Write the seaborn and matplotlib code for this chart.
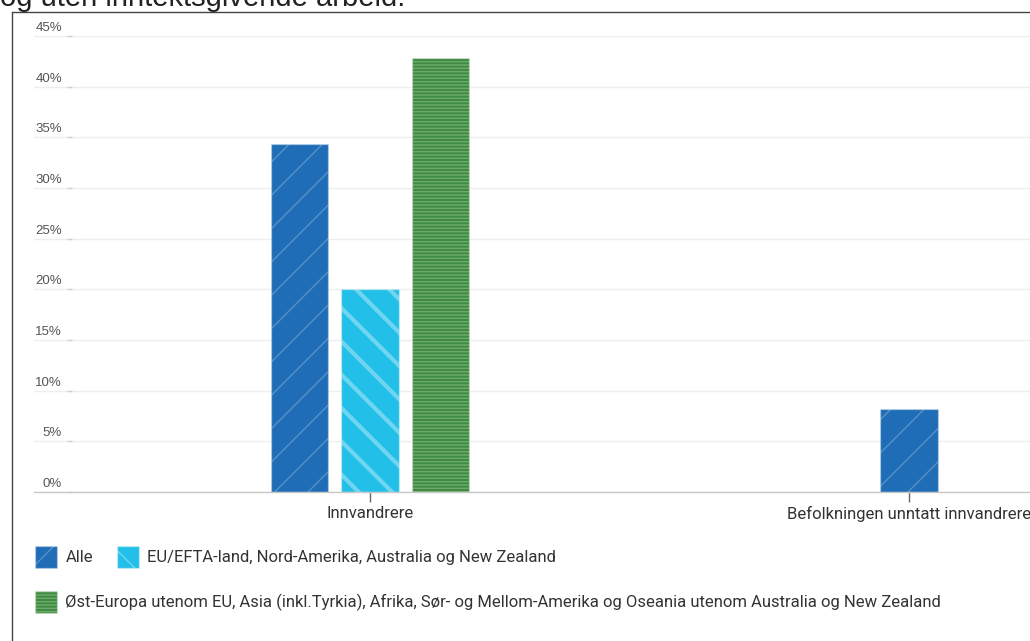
import matplotlib
matplotlib.use("Agg")
import matplotlib.pyplot as plt
import matplotlib.patches as mpatches
import matplotlib.transforms as mtransforms
from matplotlib.colors import to_hex
from matplotlib.lines import Line2D
import pandas as pd
import seaborn as sns

# Data (share in %)
categories = ["Innvandrere", "Befolkningen unntatt innvandrere"]
groups = [
    "Alle",
    "EU/EFTA-land, Nord-Amerika, Australia og New Zealand",
    "Øst-Europa utenom EU, Asia (inkl.Tyrkia), Afrika, Sør- og Mellom-Amerika og Oseania utenom Australia og New Zealand",
]
innvandrere_values = [34.3, 20.0, 42.8]
befolkning_values = [8.2]
y_ticks = [0, 5, 10, 15, 20, 25, 30, 35, 40, 45]
tick_labels = [f"{v}%" for v in y_ticks]

colors = ["#1f6db6", "#22c0e8", "#3e8c40"]
hatches = ["/", "\\", "-----"]
hatch_edges = [(1, 1, 1, 0.25), (1, 1, 1, 0.35), (1, 1, 1, 0.25)]
hatch_widths = [1.0, 3.0, 1.0]

sns.set_style("white")
plt.rcParams["font.family"] = ["Roboto", "DejaVu Sans"]
plt.rcParams["hatch.linewidth"] = 1.0

df1 = pd.DataFrame({"kategori": categories[0], "gruppe": groups, "andel": innvandrere_values})
df2 = pd.DataFrame({"kategori": categories[1], "gruppe": groups[:1], "andel": befolkning_values})

fig = plt.figure(figsize=(10.3, 6.41), dpi=100)
ax = fig.add_axes([34 / 1030, 1 - 492 / 641, 1 - 34 / 1030, (492 - 36) / 641])

sns.barplot(data=df1, x="kategori", y="andel", hue="gruppe", order=categories,
            hue_order=groups, palette=colors, width=0.392, gap=0.19,
            saturation=1, errorbar=None, legend=False, ax=ax)
sns.barplot(data=df2, x="kategori", y="andel", order=categories, color=colors[0],
            width=0.106, saturation=1, errorbar=None, ax=ax)

# hatch patterns per series
for p in ax.patches:
    fc = to_hex(p.get_facecolor())
    if fc in colors:
        i = colors.index(fc)
        p.set_hatch(hatches[i])
        p.set_edgecolor(hatch_edges[i])
        p.set_linewidth(1)
        if hasattr(p, "set_hatch_linewidth"):
            p.set_hatch_linewidth(hatch_widths[i])

ax.set_xlim(-(370 - 34) / 539, (1030 - 370) / 539)
ax.set_ylim(0, 45)
ax.set_xlabel("")
ax.set_ylabel("")
ax.set_yticks(y_ticks)
ax.set_yticklabels(tick_labels)
ax.grid(axis="y", color="#eeeeee", linewidth=1)
ax.set_axisbelow(True)
for side in ["top", "right", "left"]:
    ax.spines[side].set_visible(False)
ax.spines["left"].set_position(("axes", 33 / 996))
ax.spines["bottom"].set_color("#c8c8c8")
ax.spines["bottom"].set_linewidth(1)

ax.tick_params(axis="x", length=7, width=1, color="#666666", pad=3,
               labelsize=12, labelcolor="#333333", direction="out", bottom=True)
ax.tick_params(axis="y", length=3.6, width=1, color="#d0d0d0", direction="in",
               pad=3.6, labelsize=9.5, labelcolor="#555555", left=True)

shift = mtransforms.ScaledTranslation(0, 2 / 100, fig.dpi_scale_trans)
for lab in ax.get_yticklabels():
    lab.set_fontfamily(["Liberation Sans", "DejaVu Sans"])
    lab.set_verticalalignment("bottom")
    lab.set_transform(lab.get_transform() + shift)

# legend (two rows, as in the original flow layout)
handles = []
for c, h, e in zip(colors, hatches, hatch_edges):
    handles.append(mpatches.Patch(facecolor=c, edgecolor=e, hatch=h, linewidth=1))
leg_kw = dict(loc="upper left", frameon=False, fontsize=12, handlelength=1.32,
              handleheight=1.65, handletextpad=0.5, borderpad=0, borderaxespad=0,
              labelcolor="#333333")
fig.legend(handles[:2], groups[:2], ncol=2, columnspacing=1.45,
           bbox_to_anchor=(35 / 1030, 1 - 546 / 641), **leg_kw)
fig.legend(handles[2:], groups[2:],
           bbox_to_anchor=(35 / 1030, 1 - 591 / 641), **leg_kw)

# cropped title and chart frame
fig.text(0.0, 1 - 6 / 641, "og uten inntektsgivende arbeid.", fontsize=21,
         va="baseline", ha="left", color="#222222",
         family=["Liberation Sans", "DejaVu Sans"])
fig.add_artist(Line2D([12 / 1030, 12 / 1030], [0, 1 - 12 / 641],
                      transform=fig.transFigure, color="#444444", linewidth=1))
fig.add_artist(Line2D([12 / 1030, 1], [1 - 12 / 641, 1 - 12 / 641],
                      transform=fig.transFigure, color="#444444", linewidth=1))

fig.savefig("out.png", dpi=100)
